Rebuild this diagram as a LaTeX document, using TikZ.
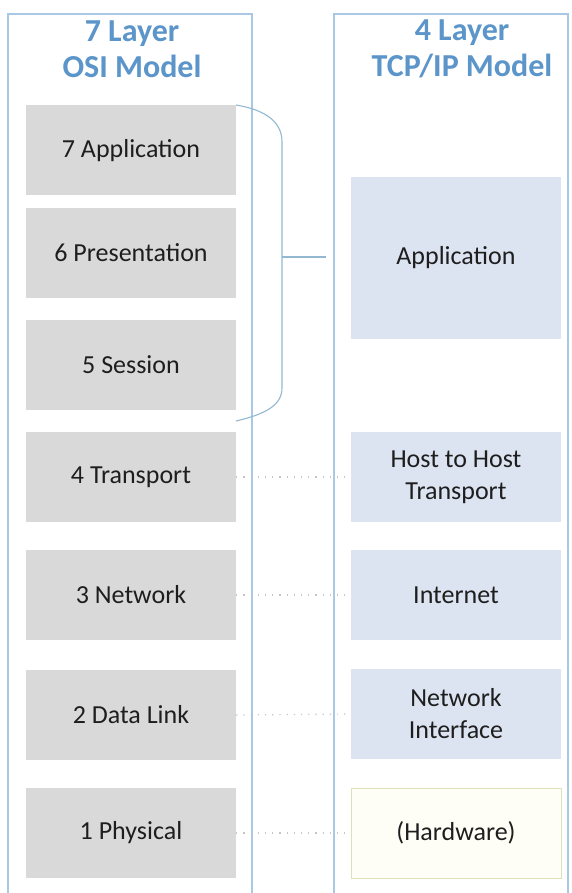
\documentclass[tikz,border=0pt]{standalone}
\usepackage{fontspec}
\setmainfont{Carlito}
\definecolor{frameblue}{HTML}{A9C8E4}
\definecolor{titleblue}{HTML}{5B95C9}
\definecolor{osigray}{HTML}{D9D9D9}
\definecolor{tcpblue}{HTML}{DDE4F1}
\definecolor{hwfill}{HTML}{FEFEF7}
\definecolor{hwdraw}{HTML}{DCE0BC}
\definecolor{brack}{HTML}{93B9D2}
\definecolor{txt}{HTML}{1E1E1E}
\begin{document}
\begin{tikzpicture}[x=1pt,y=-1pt,
  layerbox/.style={rectangle, minimum width=210pt, minimum height=90pt, inner sep=0pt,
    align=center, text=txt, font=\fontsize{26}{32}\selectfont},
  osibox/.style={layerbox, fill=osigray},
  tcpbox/.style={layerbox, fill=tcpblue},
  hwbox/.style={layerbox, fill=hwfill, draw=hwdraw, line width=0.8pt},
  framebox/.style={draw=frameblue, line width=1.2pt},
  titletext/.style={text=titleblue, font=\fontsize{32}{36}\selectfont\bfseries, align=center},
  dotline/.style={draw=gray!45, line width=1.2pt, dash pattern=on 1.2pt off 6pt},
  bracketline/.style={draw=brack, line width=1.1pt}
]
\useasboundingbox (0,0) rectangle (571,893);
\fill[white] (0,0) rectangle (571,893);
% frames
\draw[framebox] (8,905) -- (8,14) -- (252,14) -- (252,905);
\draw[framebox] (334,905) -- (334,14) -- (568,14) -- (568,905);
% titles
\node[titletext] (osititle) at (132,49) {7 Layer\\OSI Model};
\node[titletext] (tcptitle) at (462,49) {4 Layer\\TCP/IP Model};
% OSI boxes
\node[osibox] (l7) at (131,150.5) {7 Application};
\node[osibox] (l6) at (131,253) {6 Presentation};
\node[osibox] (l5) at (131,365) {5 Session};
\node[osibox] (l4) at (131,477) {4 Transport};
\node[osibox] (l3) at (131,595) {3 Network};
\node[osibox] (l2) at (131,715) {2 Data Link};
\node[osibox] (l1) at (131,833) {1 Physical};
% TCP/IP boxes
\node[tcpbox, minimum height=162pt] (tapp) at (456,258) {Application};
\node[tcpbox] (thost) at (456,477) {Host to Host\\Transport};
\node[tcpbox] (tnet) at (456,595) {Internet};
\node[tcpbox] (tnif) at (456,714) {Network\\Interface};
\node[hwbox] (thw) at (456,833) {(Hardware)};
% bracket
\coordinate (btop) at (236,105);
\coordinate (bbot) at (236,421);
\coordinate (bmid) at (282,257);
\coordinate (btick) at (326,257);
\draw[bracketline] (btop) .. controls (266,110) and (282,122) .. (282,142)
  -- (282,388) .. controls (282,405) and (266,414) .. (bbot);
\draw[bracketline] (bmid) -- (btick);
% dotted connectors
\draw[dotline] (l4.east) -- (thost.west);
\draw[dotline] (l3.east) -- (tnet.west);
\draw[dotline] (l2.east) -- (tnif.west);
\draw[dotline] (l1.east) -- (thw.west);
\end{tikzpicture}
\end{document}
